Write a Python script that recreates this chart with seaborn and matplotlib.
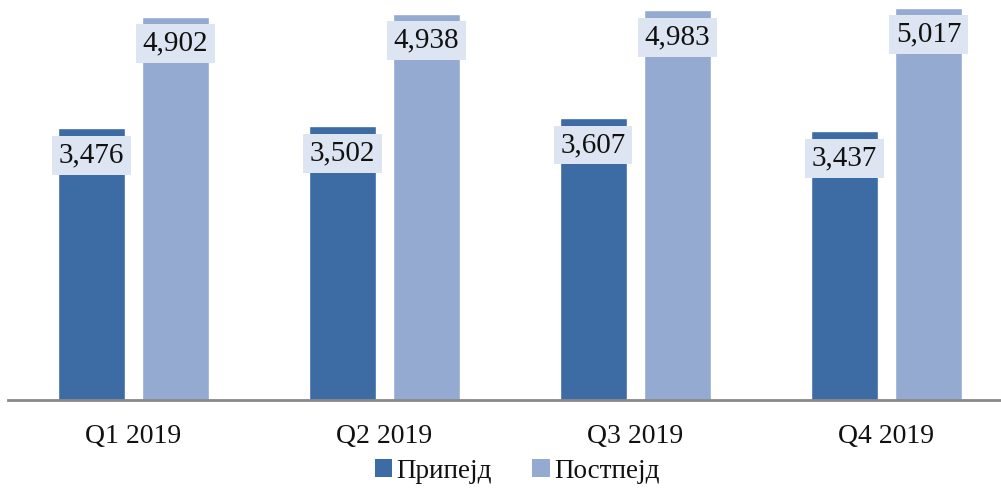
import matplotlib
matplotlib.use("Agg")
import matplotlib.pyplot as plt
import seaborn as sns
import pandas as pd
from matplotlib.patches import Patch

categories = ["Q1 2019", "Q2 2019", "Q3 2019", "Q4 2019"]
series_names = ["Припејд", "Постпејд"]
prepaid = [3476, 3502, 3607, 3437]
postpaid = [4902, 4938, 4983, 5017]
colors = ["#3D6BA3", "#94AAD1"]

df = pd.DataFrame({
    "quarter": categories * 2,
    "series": [series_names[0]] * 4 + [series_names[1]] * 4,
    "value": prepaid + postpaid,
})

sns.set_theme(style="white")
plt.rcParams["font.family"] = ["Liberation Serif", "DejaVu Serif"]

fig = plt.figure(figsize=(10.01, 4.90), dpi=100)
ax = fig.add_axes([8 / 1001, 90 / 490, 1004 / 1001, 400 / 490])

sns.barplot(data=df, x="quarter", y="value", hue="series", order=categories,
            hue_order=series_names, palette=colors, width=0.67, gap=0.2,
            saturation=1, legend=False, ax=ax)

ax.set_xlim(-0.5, 3.5)
ax.set_ylim(0, 5115)
ax.set_xlabel("")
ax.set_ylabel("")
ax.set_yticks([])
for s in ["top", "right", "left"]:
    ax.spines[s].set_visible(False)
ax.spines["bottom"].set_color("#888888")
ax.spines["bottom"].set_linewidth(2)
ax.spines["bottom"].set_clip_on(False)
ax.tick_params(axis="x", length=0, pad=17, labelsize=20, labelcolor="#111111")

for container in ax.containers:
    for bar in container:
        h = bar.get_height()
        xc = bar.get_x() + bar.get_width() / 2
        ax.annotate(f"{int(h):,}", xy=(xc, h), xytext=(0, -27),
                    textcoords="offset pixels", ha="center", va="center",
                    fontsize=21, color="#111111",
                    bbox=dict(boxstyle="square,pad=0.22", fc="#DCE5F1", ec="none"))

handles = [Patch(facecolor=c, edgecolor="none") for c in colors]
fig.legend(handles, series_names, loc="center", bbox_to_anchor=(517 / 1001, 1 - 471 / 490),
           ncol=2, frameon=False, fontsize=19.5, handlelength=0.65, handleheight=0.65,
           handletextpad=0.15, columnspacing=1.5, labelcolor="#111111")

fig.savefig("out.png", dpi=100)
